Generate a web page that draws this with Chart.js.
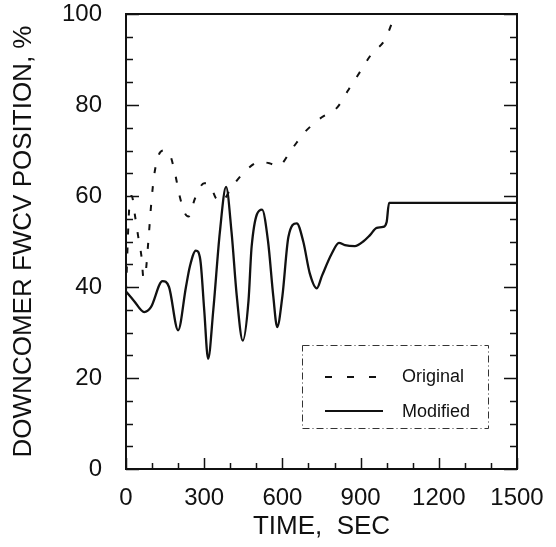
<!DOCTYPE html>
<html>
<head>
<meta charset="utf-8">
<script src="https://cdn.jsdelivr.net/npm/chart.js@4/dist/chart.umd.min.js"></script>
<style>
  html, body { margin: 0; padding: 0; background: #fff; }
  #wrap { width: 556px; height: 547px; }
</style>
</head>
<body>
<div id="wrap"><canvas id="chart"></canvas></div>
<script>
// time (sec) and valve position (%)
const timeOriginal = [0, 12, 22, 35, 47, 60, 67, 75, 86, 98, 108, 124, 145, 166, 188, 205, 226, 240, 265, 300, 320, 345, 360, 380, 399, 450, 514, 550, 584, 636, 687, 751, 808, 853, 898, 942, 994, 1025, 1035];
const posOriginal = [39, 57, 60, 55.5, 51, 46.4, 42, 43, 50.3, 59.1, 64.5, 68.8, 70, 69.4, 65, 60.2, 56.2, 55.5, 59.5, 62.8, 62.5, 59.5, 58.7, 59.5, 61.3, 65, 67.5, 67.2, 66.6, 70.3, 74.1, 77.3, 79.3, 83.3, 87.3, 91.2, 94.4, 98.7, 100];

const timeModified = [0, 30, 70, 95, 140, 165, 200, 230, 245, 268, 285, 300, 315, 335, 360, 384, 405, 425, 448, 470, 482, 522, 545, 565, 580, 600, 623, 655, 680, 705, 732, 752, 790, 817, 840, 878, 910, 936, 962, 986, 1000, 1009, 1500];
const posModified = [39, 37, 34.5, 35.5, 41.3, 40, 30.5, 40, 44.5, 48, 46, 35, 24.2, 35, 52, 62, 52, 38, 28.2, 37, 48.9, 57, 50, 38, 31.2, 38, 51, 54, 50, 43, 39.7, 42.5, 47.4, 49.7, 49.2, 49, 50, 51.4, 53, 53.2, 54.3, 58.5, 58.5];

const xTicks = [0, 300, 600, 900, 1200, 1500];
const yTicks = [0, 20, 40, 60, 80, 100];
const legendLabels = ["Original", "Modified"];

function pairs(xs, ys) {
  return xs.map(function (x, i) { return { x: x, y: ys[i] }; });
}

const ink = "#111";
const font = "'Liberation Sans', Arial, sans-serif";

// frame, inward ticks and the boxed legend
const framePlugin = {
  id: "frame",
  afterDatasetsDraw: function (chart) {
    const ctx = chart.ctx;
    const a = chart.chartArea;
    const xs = chart.scales.x;
    const ys = chart.scales.y;
    ctx.save();
    ctx.strokeStyle = ink;
    ctx.lineWidth = 2;
    ctx.setLineDash([]);
    ctx.strokeRect(a.left, a.top, a.right - a.left, a.bottom - a.top);

    ctx.lineWidth = 1.5;
    ctx.beginPath();
    for (let v = 0; v <= 100; v += 5) {
      const y = Math.round(ys.getPixelForValue(v)) + 0.5;
      const len = v % 20 === 0 ? 13 : 7;
      ctx.moveTo(a.left, y); ctx.lineTo(a.left + len, y);
      ctx.moveTo(a.right, y); ctx.lineTo(a.right - len, y);
    }
    for (let t = 0; t <= 1500; t += 100) {
      const x = Math.round(xs.getPixelForValue(t)) + 0.5;
      const len = t % 300 === 0 ? 11 : 6;
      ctx.moveTo(x, a.bottom); ctx.lineTo(x, a.bottom - len);
    }
    ctx.stroke();

    // legend box
    const bx = 302, by = 345, bw = 186, bh = 83;
    ctx.fillStyle = "#fff";
    ctx.fillRect(bx, by, bw, bh);
    ctx.strokeStyle = "#333";
    ctx.lineWidth = 1;
    ctx.setLineDash([7, 3, 1, 3]);
    ctx.strokeRect(bx + 0.5, by + 0.5, bw, bh);

    ctx.strokeStyle = ink;
    ctx.lineWidth = 2;
    ctx.setLineDash([7, 15]);
    ctx.beginPath();
    ctx.moveTo(325, 377); ctx.lineTo(384, 377);
    ctx.stroke();
    ctx.setLineDash([]);
    ctx.lineWidth = 2.2;
    ctx.beginPath();
    ctx.moveTo(325, 411); ctx.lineTo(383, 411);
    ctx.stroke();

    ctx.fillStyle = ink;
    ctx.font = "18px " + font;
    ctx.textBaseline = "middle";
    ctx.textAlign = "left";
    ctx.fillText(legendLabels[0], 402, 377);
    ctx.fillText(legendLabels[1], 402, 412);
    ctx.restore();
  }
};

const ctx = document.getElementById("chart").getContext("2d");
const myChart = new Chart(ctx, {
  type: "line",
  data: {
    datasets: [
      {
        label: legendLabels[0],
        data: pairs(timeOriginal, posOriginal),
        borderColor: ink,
        borderWidth: 2,
        borderDash: [6, 13],
        pointRadius: 0,
        cubicInterpolationMode: "monotone",
        fill: false,
      },
      {
        label: legendLabels[1],
        data: pairs(timeModified, posModified),
        borderColor: ink,
        borderWidth: 2.3,
        pointRadius: 0,
        cubicInterpolationMode: "monotone",
        fill: false,
      },
    ],
  },
  options: {
    responsive: true,
    maintainAspectRatio: false,
    animation: false,
    layout: { padding: { left: 0, right: 39, top: 14, bottom: 0 } },
    plugins: {
      legend: { display: false },
      tooltip: { enabled: false },
    },
    scales: {
      x: {
        type: "linear",
        min: 0,
        max: 1500,
        afterFit: function (scale) {
          scale.height = 78;
          scale.paddingLeft = 0;
          scale.paddingRight = 0;
        },
        afterBuildTicks: function (scale) {
          scale.ticks = xTicks.map(function (v) { return { value: v }; });
        },
        grid: { display: false },
        border: { display: false },
        ticks: {
          color: ink,
          padding: 7,
          maxRotation: 0,
          font: { family: font, size: 24 },
          callback: function (v) { return String(v); },
        },
        title: {
          display: true,
          text: "TIME,  SEC",
          color: ink,
          padding: { top: 0, bottom: 5 },
          font: { family: font, size: 26 },
        },
      },
      y: {
        min: 0,
        max: 100,
        afterFit: function (scale) {
          scale.width = 126;
          scale.paddingTop = 0;
          scale.paddingBottom = 0;
        },
        afterBuildTicks: function (scale) {
          scale.ticks = yTicks.map(function (v) { return { value: v }; });
        },
        grid: { display: false },
        border: { display: false },
        ticks: {
          color: ink,
          padding: 16,
          font: { family: font, size: 24 },
          callback: function (v) { return String(v); },
        },
        title: {
          display: true,
          text: "DOWNCOMER FWCV POSITION, %",
          color: ink,
          padding: { top: 8, bottom: 0 },
          font: { family: font, size: 26 },
        },
      },
    },
  },
  plugins: [framePlugin],
});
</script>
</body>
</html>
